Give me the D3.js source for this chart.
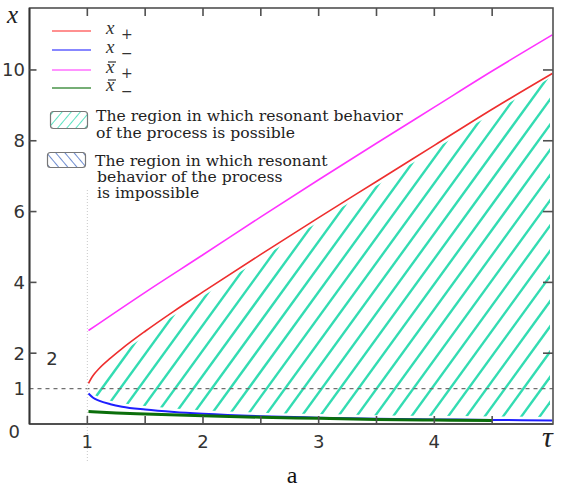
<!DOCTYPE html>
<html><head><meta charset="utf-8">
<script src="https://cdn.jsdelivr.net/npm/d3@7"></script>
<style>
html,body{margin:0;padding:0;background:#fff;}
svg{display:block;}
</style></head>
<body>
<svg id="c" width="563" height="491"></svg>
<script>
// ---- data ----
const tau      = [1.01, 1.05, 1.1, 1.2, 1.3, 1.5, 1.75, 2, 2.5, 3, 3.5, 4, 4.5, 5.02];
const xPlus    = [1.15, 1.37, 1.56, 1.86, 2.13, 2.62, 3.19, 3.73, 4.79, 5.83, 6.85, 7.87, 8.89, 9.90];
const xMinus   = [0.86, 0.74, 0.66, 0.56, 0.49, 0.41, 0.34, 0.29, 0.22, 0.18, 0.15, 0.13, 0.115, 0.10];
const tauBarP  = [1.01, 1.5, 2, 2.5, 3, 3.5, 4, 4.5, 5.02];
const xBarPlus = [2.64, 3.72, 4.78, 5.85, 6.90, 7.93, 8.95, 9.97, 10.99];
const tauBarM  = [1.01, 1.25, 1.5, 2, 2.5, 3, 3.5, 4, 4.5];
const xBarMinus= [0.35, 0.31, 0.28, 0.23, 0.19, 0.16, 0.13, 0.11, 0.10];
const xTicks   = [1, 2, 3, 4];
const xMinor   = [1, 1.5, 2, 2.5, 3, 3.5, 4, 4.5];
const yTicks   = [2, 4, 6, 8, 10];
const yLabels  = [0, 1, 2, 4, 6, 8, 10];
const legendLines = [
  {name:"x", sub:"+", bar:false, color:"#ff3b3b"},
  {name:"x", sub:"\u2212", bar:false, color:"#2a2aff"},
  {name:"x", sub:"+", bar:true, color:"#ff40ff"},
  {name:"x", sub:"\u2212", bar:true, color:"#0d700d"}
];
const legendRegions = [
  ["The region in which resonant behavior", "of the process is possible"],
  ["The region in which resonant", "behavior of the process", "is impossible"]
];

const svg = d3.select("#c");
const L = 29.5, R = 553, T = 8, B = 424;
const x = d3.scaleLinear().domain([0.5, 5.026]).range([L, R]);
const y = d3.scaleLinear().domain([0, 11.75]).range([B, T]);
const axisCol = "#505050";
const hatchCol = "#33dcb2";

const defs = svg.append("defs");

// hatch region clip: between x+ (slightly below) and x- (slightly above)
const regionPts = tau.map((t,i)=>[t, xPlus[i]-0.12, xMinus[i]+0.1]).filter(d=>d[0]>=1.05);
const areaGen = d3.area().x(d=>x(Math.min(d[0],5.0))).y0(d=>y(d[2])).y1(d=>y(d[1])).curve(d3.curveMonotoneX);
defs.append("clipPath").attr("id","hclip").append("path").attr("d", areaGen(regionPts));

// hatch lines
const ang = 54*Math.PI/180, sp = 18.33, x0 = 450, yRef = y(1);
const hatch = svg.append("g").attr("clip-path","url(#hclip)");
const ks = d3.range(-40, 30);
hatch.selectAll("line").data(ks).join("line")
  .attr("x1", k => x0 + k*sp - 500*Math.cos(ang))
  .attr("y1", k => yRef + 500*Math.sin(ang))
  .attr("x2", k => x0 + k*sp + 500*Math.cos(ang))
  .attr("y2", k => yRef - 500*Math.sin(ang))
  .attr("stroke", hatchCol).attr("stroke-width", 2.4);

// dashed horizontal at x=1
svg.append("line").attr("x1",L).attr("x2",R).attr("y1",y(1)).attr("y2",y(1))
  .attr("stroke","#707070").attr("stroke-width",1.2).attr("stroke-dasharray","4,4");
// dotted vertical at tau=1
svg.append("line").attr("x1",x(1)).attr("x2",x(1)).attr("y1",190).attr("y2",463)
  .attr("stroke","#c8c8c8").attr("stroke-width",1).attr("stroke-dasharray","1,2");

// curves
const line = (tx, ty) => d3.line().x((d,i)=>x(tx[i])).y((d,i)=>y(ty[i])).curve(d3.curveMonotoneX)(ty);
svg.append("path").attr("d", line(tauBarP, xBarPlus)).attr("fill","none").attr("stroke","#ff33ff").attr("stroke-width",1.6);
svg.append("path").attr("d", line(tau, xPlus)).attr("fill","none").attr("stroke","#ee2e2e").attr("stroke-width",1.6);
svg.append("path").attr("d", line(tau, xMinus)).attr("fill","none").attr("stroke","#1f1fff").attr("stroke-width",2);
svg.append("path").attr("d", line(tauBarM, xBarMinus)).attr("fill","none").attr("stroke","#0b6e0b").attr("stroke-width",3);

// frame
svg.append("rect").attr("x",L).attr("y",T).attr("width",R-L).attr("height",B-T)
  .attr("fill","none").attr("stroke",axisCol).attr("stroke-width",1.6);
svg.append("line").attr("x1",L).attr("x2",R).attr("y1",B).attr("y2",B).attr("stroke",axisCol).attr("stroke-width",2);
svg.append("line").attr("x1",L).attr("x2",L).attr("y1",T).attr("y2",B).attr("stroke","#333").attr("stroke-width",1.8);

// ticks
const tk = svg.append("g").attr("stroke",axisCol).attr("stroke-width",1.6);
tk.selectAll(".bt").data(xMinor).join("line").attr("x1",d=>x(d)).attr("x2",d=>x(d)).attr("y1",B).attr("y2",B-8);
tk.selectAll(".tt").data(xMinor).join("line").attr("x1",d=>x(d)).attr("x2",d=>x(d)).attr("y1",T).attr("y2",T+8);
tk.selectAll(".lt").data(yTicks).join("line").attr("x1",L).attr("x2",L+7).attr("y1",d=>y(d)).attr("y2",d=>y(d));
tk.selectAll(".rt").data(yTicks).join("line").attr("x1",R).attr("x2",R-10).attr("y1",d=>y(d)).attr("y2",d=>y(d));

// tick labels
const tf = "'DejaVu Sans', sans-serif";
svg.selectAll(".xl").data(xTicks).join("text")
  .attr("x",d=>x(d)).attr("y",448).attr("text-anchor","middle")
  .attr("font-family",tf).attr("font-size",18).attr("fill","#333").text(d=>d);
svg.selectAll(".yl").data(yLabels).join("text")
  .attr("x",d=>d===0?20:25).attr("y",d=>d===0?438:y(d)+6.5).attr("text-anchor","end")
  .attr("font-family",tf).attr("font-size",18).attr("fill","#333").text(d=>d);
svg.append("text").attr("x",52).attr("y",365).attr("text-anchor","middle")
  .attr("font-family",tf).attr("font-size",18).attr("fill","#333").text("2");

// axis titles
const mf = "'Liberation Serif', serif";
const sf = "'DejaVu Serif', serif";
svg.append("text").attr("x",7).attr("y",23).attr("font-family",mf).attr("font-style","italic")
  .attr("font-size",25).attr("fill","#222").text("x");
svg.append("text").attr("x",542).attr("y",447).attr("font-family",mf).attr("font-style","italic")
  .attr("font-size",30).attr("fill","#222").text("\u03c4");
svg.append("text").attr("x",292).attr("y",483).attr("text-anchor","middle").attr("font-family","'Liberation Serif', serif")
  .attr("font-size",24).attr("fill","#111").text("a");

// legend lines
const ly = [31, 50, 70, 88];
const lg = svg.append("g");
legendLines.forEach((d,i)=>{
  lg.append("line").attr("x1",52).attr("x2",91).attr("y1",ly[i]).attr("y2",ly[i])
    .attr("stroke",d.color).attr("stroke-width",1.6).attr("opacity",0.75);
  lg.append("text").attr("x",106).attr("y",ly[i]+3).attr("font-family",mf).attr("font-style","italic")
    .attr("font-size",19).attr("fill","#333").text("x");
  if (d.bar) lg.append("line").attr("x1",108).attr("x2",116).attr("y1",ly[i]-8).attr("y2",ly[i]-8)
    .attr("stroke","#333").attr("stroke-width",1.2);
  lg.append("text").attr("x",121).attr("y",ly[i]+8).attr("font-family",sf)
    .attr("font-size",14).attr("fill","#333").text(d.sub);
});

// legend region patches
function hatchPattern(id, color, dir){
  const p = defs.append("pattern").attr("id",id).attr("patternUnits","userSpaceOnUse")
    .attr("width",7).attr("height",7).attr("patternTransform",`rotate(${dir})`);
  p.append("line").attr("x1",0).attr("x2",0).attr("y1",0).attr("y2",7).attr("stroke",color).attr("stroke-width",1.6);
}
hatchPattern("pc", hatchCol, 40);
hatchPattern("pb", "#4a6fc4", -40);
svg.append("rect").attr("x",50.5).attr("y",111.5).attr("width",37).attr("height",17).attr("rx",3)
  .attr("fill","url(#pc)").attr("stroke","#777").attr("stroke-width",1.2);
svg.append("rect").attr("x",47.5).attr("y",152.5).attr("width",38).attr("height",15).attr("rx",3)
  .attr("fill","url(#pb)").attr("stroke","#777").attr("stroke-width",1.2);

const regY = [[121, 138], [166, 182, 198]];
legendRegions.forEach((lines, j)=>{
  lines.forEach((s, k)=>{
    svg.append("text").attr("x", j===0 ? 96 : (k===0 ? 95 : 97)).attr("y", regY[j][k])
      .attr("font-family",sf).attr("font-size",15.6).attr("fill","#222").text(s);
  });
});
</script>
</body></html>
